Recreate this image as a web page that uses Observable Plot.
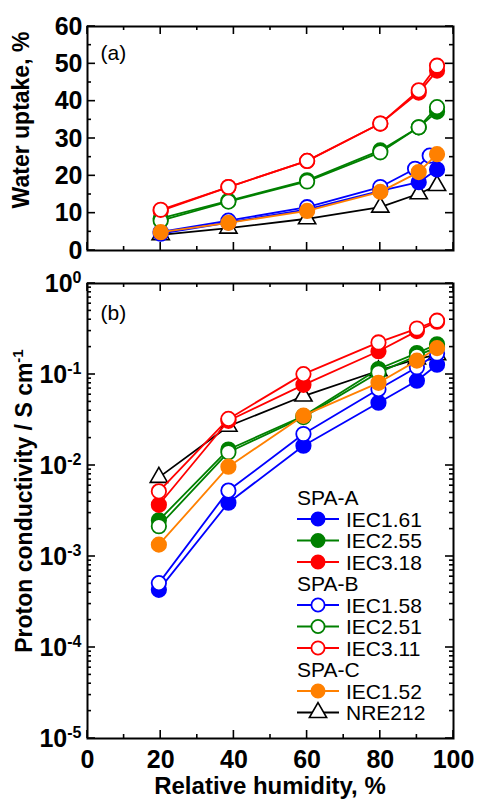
<!DOCTYPE html>
<html>
<head>
<meta charset="utf-8">
<script src="https://cdn.jsdelivr.net/npm/d3@7"></script>
<script src="https://cdn.jsdelivr.net/npm/@observablehq/plot@0.6"></script>
<style>
  body { margin: 0; background: #fff; }
  #chart { width: 477px; height: 801px; position: relative; overflow: hidden; background: #fff; }
  #chart svg { display: block; }
</style>
</head>
<body>
<div id="chart"></div>
<script>
// ---------------- DATA ----------------
const rhTop = [20, 38.5, 60, 80, 90.5, 95.5];
const rhTopB158 = [20, 38.5, 60, 80, 89.5, 93.5];
const rhBottom = [19.5, 38.5, 59, 79.5, 90, 95.5];

const seriesKeys   = ["NRE", "A161", "A255", "A318", "B158", "B251", "B311", "C152"];
const seriesLabels = { A161: "IEC1.61", A255: "IEC2.55", A318: "IEC3.18",
                       B158: "IEC1.58", B251: "IEC2.51", B311: "IEC3.11",
                       C152: "IEC1.52", NRE: "NRE212" };
const seriesColors = { A161: "#0000ff", A255: "#008000", A318: "#ff0000",
                       B158: "#0000ff", B251: "#008000", B311: "#ff0000",
                       C152: "#ff8000", NRE: "#000000" };
const seriesSymbols = { A161: "filled", A255: "filled", A318: "filled",
                        B158: "open", B251: "open", B311: "open",
                        C152: "filled", NRE: "triangle" };

// (a) water uptake, %
const uptakeA161 = [4.5, 7.5, 11.0, 16.0, 18.3, 21.7];
const uptakeA255 = [8.6, 13.3, 18.8, 26.8, 33.0, 37.2];
const uptakeA318 = [10.6, 17.0, 24.0, 34.0, 42.3, 48.2];
const uptakeB158 = [5.0, 8.0, 11.6, 17.0, 21.9, 25.4];
const uptakeB251 = [8.0, 13.1, 18.5, 26.3, 33.0, 38.4];
const uptakeB311 = [10.9, 17.0, 24.0, 34.0, 42.9, 49.5];
const uptakeC152 = [4.9, 7.4, 10.6, 15.7, 21.0, 25.8];
const uptakeNRE  = [4.2, 6.0, 8.5, 11.6, 15.2, 17.4];

// (b) proton conductivity, S/cm
const condA161 = [4.3e-4, 3.9e-3, 0.0165, 0.049, 0.0855, 0.128];
const condA255 = [2.5e-3, 0.0150, 0.035, 0.115, 0.172, 0.215];
const condA318 = [3.7e-3, 0.031, 0.077, 0.18, 0.30, 0.38];
const condB158 = [5.1e-4, 5.3e-3, 0.0222, 0.069, 0.12, 0.17];
const condB251 = [2.15e-3, 0.0140, 0.034, 0.105, 0.16, 0.20];
const condB311 = [5.2e-3, 0.0325, 0.101, 0.225, 0.32, 0.39];
const condC152 = [1.35e-3, 9.7e-3, 0.0353, 0.081, 0.142, 0.195];
const condNRE  = [7.4e-3, 0.027, 0.058, 0.11, 0.148, 0.165];

const xMajorTicks = [0, 20, 40, 60, 80, 100];
const xMinorTicks = [10, 30, 50, 70, 90];
const yTopMajorTicks = [0, 10, 20, 30, 40, 50, 60];
const yTopMinorTicks = [5, 15, 25, 35, 45, 55];
const yLogMajorTicks = [1e-5, 1e-4, 1e-3, 1e-2, 1e-1, 1];

const legendGroups = [
  { header: "SPA-A", keys: ["A161", "A255", "A318"] },
  { header: "SPA-B", keys: ["B158", "B251", "B311"] },
  { header: "SPA-C", keys: ["C152", "NRE"] }
];

// ---------------- HELPERS ----------------
const uptake = { A161: uptakeA161, A255: uptakeA255, A318: uptakeA318, B158: uptakeB158,
                 B251: uptakeB251, B311: uptakeB311, C152: uptakeC152, NRE: uptakeNRE };
const cond = { A161: condA161, A255: condA255, A318: condA318, B158: condB158,
               B251: condB251, B311: condB311, C152: condC152, NRE: condNRE };
const yLogMinorTicks = [];
for (let e = -5; e < 0; e++) for (let m = 2; m <= 9; m++) yLogMinorTicks.push(m * Math.pow(10, e));

const FONT = "'Liberation Sans', Arial, Helvetica, sans-serif";
const LW = 1.8;
const ML = 87, MR = 24;

function seriesMarks(key, xs, ys) {
  const rows = xs.map((x, j) => ({ x, y: ys[j] }));
  const c = seriesColors[key], sym = seriesSymbols[key];
  const dot = sym === "triangle"
    ? Plot.dot(rows, { x: "x", y: "y", symbol: "triangle", r: 6.4, fill: "white", stroke: c, strokeWidth: 1.6 })
    : Plot.dot(rows, { x: "x", y: "y", r: 7.2, fill: sym === "filled" ? c : "white", stroke: c, strokeWidth: 1.8 });
  return [Plot.line(rows, { x: "x", y: "y", stroke: c, strokeWidth: LW }), dot];
}

const svgStyle = { fontFamily: FONT, fontSize: "25px", fontWeight: "bold", color: "black", background: "white", overflow: "visible" };

// inward ticks on all four sides, positioned through the plot's own scales
function addFrameTicks(svg, yMajor, yMinor) {
  const sx = svg.scale("x"), sy = svg.scale("y");
  const [x0, x1] = sx.range, [yb, yt] = sy.range;
  const g = d3.select(svg).append("g").attr("stroke", "black").attr("stroke-width", 1.6).attr("fill", "none");
  const tickSet = (vals, len) => vals.forEach(v => {
    const px = sx.apply(v);
    g.append("line").attr("x1", px).attr("x2", px).attr("y1", yb).attr("y2", yb - len);
    g.append("line").attr("x1", px).attr("x2", px).attr("y1", yt).attr("y2", yt + len);
  });
  const tickSetY = (vals, len) => vals.forEach(v => {
    const py = sy.apply(v);
    g.append("line").attr("y1", py).attr("y2", py).attr("x1", x0).attr("x2", x0 + len);
    g.append("line").attr("y1", py).attr("y2", py).attr("x1", x1).attr("x2", x1 - len);
  });
  tickSet(xMajorTicks, 8); tickSet(xMinorTicks, 4);
  tickSetY(yMajor, 8); tickSetY(yMinor, 4);
}

// ---------------- PANEL (a) ----------------
const topPlot = Plot.plot({
  width: 477, height: 262,
  marginLeft: ML, marginRight: MR, marginTop: 26, marginBottom: 12,
  style: svgStyle,
  x: { domain: [0, 100], axis: null },
  y: { domain: [0, 60] },
  marks: [
    ...seriesKeys.flatMap(k => seriesMarks(k, k === "B158" ? rhTopB158 : rhTop, uptake[k])),
    Plot.axisY({ anchor: "left", ticks: yTopMajorTicks, tickSize: 0, tickPadding: 5, label: null }),
    Plot.frame({ stroke: "black", strokeWidth: 2 }),
    Plot.text(["(a)"], { frameAnchor: "top-left", dx: 13, dy: 27, textAnchor: "start", lineAnchor: "middle",
                         fontSize: 21, fontWeight: "normal", fill: "black" })
  ]
});

// ---------------- PANEL (b) ----------------
const bottomPlot = Plot.plot({
  width: 477, height: 539,
  marginLeft: ML, marginRight: MR, marginTop: 21, marginBottom: 63,
  style: svgStyle,
  x: { domain: [0, 100] },
  y: { type: "log", domain: [1e-5, 1] },
  marks: [
    ...seriesKeys.flatMap(k => seriesMarks(k, rhBottom, cond[k])),
    Plot.axisY({ anchor: "left", ticks: yLogMajorTicks, tickSize: 0, tickPadding: 6, label: null,
                 tickFormat: d => String(Math.round(Math.log10(d))) }),
    Plot.axisX({ anchor: "bottom", ticks: xMajorTicks, tickSize: 0, tickPadding: 12, label: null }),
    Plot.frame({ stroke: "black", strokeWidth: 2 }),
    Plot.text(["(b)"], { frameAnchor: "top-left", dx: 13, dy: 30, textAnchor: "start", lineAnchor: "middle",
                         fontSize: 21, fontWeight: "normal", fill: "black" })
  ]
});

const chart = document.getElementById("chart");
chart.appendChild(topPlot);
chart.appendChild(bottomPlot);

addFrameTicks(topPlot, yTopMajorTicks, yTopMinorTicks);
addFrameTicks(bottomPlot, yLogMajorTicks, yLogMinorTicks);

// superscript exponents on log tick labels
d3.select(bottomPlot).selectAll('g[aria-label="y-axis tick label"] text').each(function () {
  const exp = this.textContent.replace("\u2212", "-");
  const t = d3.select(this);
  t.text("10");
  t.append("tspan").attr("dy", "-0.55em").attr("font-size", "16px").text(exp);
});

// axis titles
d3.select(topPlot).append("text")
  .attr("transform", "translate(29,120) rotate(-90)")
  .attr("text-anchor", "middle").attr("font-size", "23px").attr("font-weight", "bold")
  .attr("font-family", FONT).attr("fill", "black")
  .text("Water uptake, %");

const yt = d3.select(bottomPlot).append("text")
  .attr("transform", "translate(32,239) rotate(-90)")
  .attr("text-anchor", "middle").attr("font-size", "23px").attr("font-weight", "bold")
  .attr("font-family", FONT).attr("fill", "black");
yt.append("tspan").text("Proton conductivity / S cm");
yt.append("tspan").attr("dy", "-0.6em").attr("font-size", "15px").text("-1");

d3.select(bottomPlot).append("text")
  .attr("x", 270).attr("y", 532)
  .attr("text-anchor", "middle").attr("font-size", "24px").attr("font-weight", "bold")
  .attr("font-family", FONT).attr("fill", "black")
  .text("Relative humidity, %");

// legend
const lg = d3.select(bottomPlot).append("g").attr("font-family", FONT).attr("font-size", "21px")
  .attr("font-weight", "normal").attr("fill", "black").attr("text-anchor", "start");
let row = 0;
const rowY0 = 235.5, rowH = 21.5;
legendGroups.forEach(g => {
  lg.append("text").attr("x", 297).attr("y", rowY0 + row * rowH).attr("dy", "0.36em")
    .attr("text-anchor", "start").text(g.header);
  row++;
  g.keys.forEach(k => {
    const y = rowY0 + row * rowH, c = seriesColors[k], sym = seriesSymbols[k];
    lg.append("line").attr("x1", 297).attr("x2", 339).attr("y1", y).attr("y2", y)
      .attr("stroke", c).attr("stroke-width", LW);
    if (sym === "triangle") {
      lg.append("path").attr("transform", `translate(318,${y})`)
        .attr("d", d3.symbol(d3.symbolTriangle, Math.PI * 6.4 * 6.4)())
        .attr("fill", "white").attr("stroke", c).attr("stroke-width", 1.6);
    } else {
      lg.append("circle").attr("cx", 318).attr("cy", y).attr("r", 6.6)
        .attr("fill", sym === "filled" ? c : "white").attr("stroke", c).attr("stroke-width", 1.8);
    }
    lg.append("text").attr("x", 346).attr("y", y).attr("dy", "0.36em")
      .attr("text-anchor", "start").text(seriesLabels[k]);
    row++;
  });
});
</script>
</body>
</html>
